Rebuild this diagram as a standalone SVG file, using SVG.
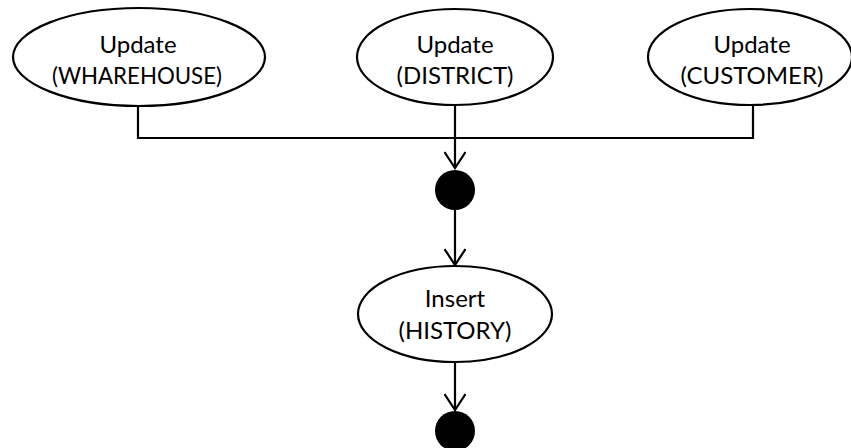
<svg xmlns="http://www.w3.org/2000/svg" width="851" height="448" viewBox="0 0 851 448">
  <defs>
    <style>
      .act { fill: #ffffff; stroke: #000000; stroke-width: 2.2; }
      .dot { fill: #000000; stroke: none; }
      .lbl { font-family: Lato, "Liberation Sans", sans-serif; font-size: 24px; fill: #000000; text-anchor: middle; }
      .wire { fill: none; stroke: #000000; stroke-width: 2.2; }
    </style>
    <marker id="vee" markerUnits="userSpaceOnUse" markerWidth="26" markerHeight="22" refX="22" refY="11" orient="auto">
      <path d="M6,0.5 L22,11 L6,21.5" fill="none" stroke="#000000" stroke-width="2.2"/>
    </marker>
  </defs>

  <rect width="851" height="448" fill="#ffffff"/>

  <!-- connectors -->
  <g id="connectors">
    <path class="wire" d="M138,106 V138 H753 V106"/>
    <path class="wire" d="M455,106 V168" marker-end="url(#vee)"/>
    <path class="wire" d="M455,210 V265" marker-end="url(#vee)"/>
    <path class="wire" d="M455,362 V410" marker-end="url(#vee)"/>
  </g>

  <g id="update-warehouse">
    <ellipse class="act" cx="139" cy="57" rx="126" ry="49"/>
    <text class="lbl" x="138" y="53">Update</text>
    <text class="lbl" x="137" y="84" textLength="170" lengthAdjust="spacingAndGlyphs">(WHAREHOUSE)</text>
  </g>

  <g id="update-district">
    <ellipse class="act" cx="455" cy="57" rx="98" ry="48"/>
    <text class="lbl" x="455" y="53">Update</text>
    <text class="lbl" x="455" y="84">(DISTRICT)</text>
  </g>

  <g id="update-customer">
    <ellipse class="act" cx="750" cy="57" rx="102" ry="48"/>
    <text class="lbl" x="752" y="53">Update</text>
    <text class="lbl" x="752" y="84">(CUSTOMER)</text>
  </g>

  <g id="join">
    <circle class="dot" cx="455" cy="190" r="20"/>
  </g>

  <g id="insert-history">
    <ellipse class="act" cx="455" cy="314" rx="97" ry="48"/>
    <text class="lbl" x="455" y="307">Insert</text>
    <text class="lbl" x="455" y="339">(HISTORY)</text>
  </g>

  <g id="final">
    <circle class="dot" cx="455" cy="431" r="20"/>
  </g>
</svg>
